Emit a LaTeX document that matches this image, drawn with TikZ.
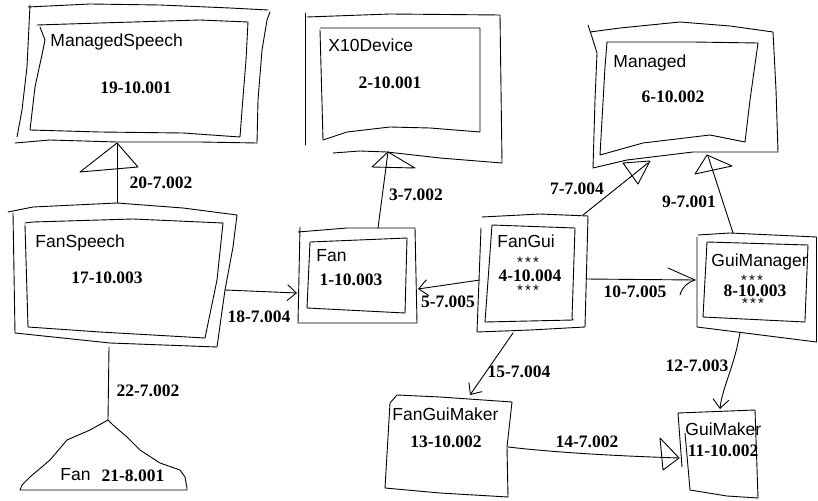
\documentclass[tikz,border=0pt]{standalone}
\usepackage{fontspec}
\setmainfont{Liberation Serif}
\newfontfamily\hand{Liberation Sans}
\usetikzlibrary{arrows.meta}
\newcommand\starrow{\smash{\raisebox{-4.6pt}{*\hspace{2.2pt}*\hspace{2.2pt}*}}}
\begin{document}
\begin{tikzpicture}[x=1pt,y=-1pt,line width=0.9pt,line join=round,line cap=round,
  num/.style={font=\fontsize{17.5}{17.5}\selectfont\bfseries,inner sep=0pt},
  nm/.style={font=\hand\fontsize{17.5}{17.5}\selectfont,inner sep=0pt,anchor=base west},
  lbl/.style={font=\fontsize{17.5}{17.5}\selectfont\bfseries,inner sep=0pt},
  stars/.style={font=\hand\fontsize{15}{15}\selectfont,inner sep=0pt,text height=4pt,text depth=0pt},
  barb/.style={-{Straight Barb[length=9pt,width=16pt]}}]
\useasboundingbox (0,0) rectangle (818,500);

% ---------- ManagedSpeech ----------
\draw (28,7) -- (90,4) -- (160,5) -- (230,8) -- (268,10);
\draw (270,12) -- (267,20) -- (262,50) -- (258,100) -- (257,143);
\draw (30,5) -- (27,67) -- (22,110) -- (17,137);
\draw (15,143) -- (50,140) -- (117,142) -- (200,142) -- (257,143);
\draw (37,25) -- (100,23) -- (200,20) -- (248,22) -- (246,60) -- (242,110) -- (240,137)
      -- (183,133) -- (100,132) -- (30,130) -- (35,87) -- (43,50) -- (45,40) -- (40,27);
\node[nm] (msN) at (50,47) {ManagedSpeech};
\node[num] (msV) at (136,88) {19-10.001};

% ---------- X10Device ----------
\draw (305,13) -- (305,145);
\draw (307,17) -- (390,14) -- (500,15) -- (502,163);
\draw (333,153) -- (360,151) -- (387,152) -- (440,158) -- (502,163);
\draw (320,28) -- (480,28) -- (480,132) -- (430,128) -- (390,127) -- (347,132) -- (323,140) -- (320,30);
\node[nm] (xdN) at (328,52) {X10Device};
\node[num] (xdV) at (390,83) {2-10.001};

% ---------- Managed ----------
\draw (588,25) -- (592,37) -- (597,53) -- (595,100) -- (593,168) -- (627,160) -- (693,152) -- (778,152)
      -- (776,90) -- (773,32) -- (730,26) -- (680,22) -- (620,28) -- (590,32);
\draw (607,42) -- (693,42) -- (758,43) -- (750,100) -- (745,142) -- (710,135) -- (643,143)
      -- (600,155) -- (605,67) -- (607,42);
\node[nm] (mgN) at (613,68) {Managed};
\node[num] (mgV) at (673,97) {6-10.002};

% ---------- FanSpeech ----------
\draw (8,212) -- (33,207) -- (117,203) -- (183,208) -- (237,215) -- (233,247) -- (225,290) -- (217,347)
      -- (110,343) -- (15,333) -- (13,213);
\draw (25,223) -- (33,222) -- (133,219) -- (223,223) -- (217,280) -- (205,338) -- (100,332) -- (28,327) -- (25,225);
\node[nm] (fsN) at (35,247) {FanSpeech};
\node[num] (fsV) at (107,278) {17-10.003};

% ---------- Fan (1) ----------
\draw (298,232) -- (347,228) -- (415,228) -- (417,323) -- (347,323) -- (298,323) -- (300,227);
\draw (310,242) -- (407,238) -- (405,313) -- (307,308) -- cycle;
\node[nm] (f1N) at (316,261) {Fan};
\node[num] (f1V) at (351,280) {1-10.003};

% ---------- FanGui ----------
\draw (482,217) -- (540,214) -- (588,216) -- (585,327) -- (530,330) -- (477,332) -- (481,228);
\draw (492,225) -- (575,228) -- (572,318) -- (573,320) -- (485,322) -- (492,225);
\node[nm] (fgN) at (497,247) {FanGui};
\node[stars] (fgS1) at (528,261) {\starrow};
\node[num] (fgV) at (530,276) {4-10.004};
\node[stars] (fgS2) at (528,289) {\starrow};

% ---------- GuiManager ----------
\draw (698,235) -- (730,233) -- (816.5,237) -- (816.5,342) -- (737,332) -- (697,327) -- (697,237);
\draw (707,242) -- (808,245) -- (805,320) -- (805,322) -- (703,317) -- cycle;
\node[nm] (gmN) at (711,266) {GuiManager};
\node[stars] (gmS1) at (752,279) {\starrow};
\node[num] (gmV) at (755,291) {8-10.003};
\node[stars] (gmS2) at (753,302) {\starrow};

% ---------- FanGuiMaker ----------
\draw (390,403) -- (397,395) -- (440,397) -- (512,402) -- (507,447) -- (508,497) -- (440,493) -- (385,488) -- cycle;
\node[nm] (fgmN) at (392,420) {FanGuiMaker};
\node[num] (fgmV) at (446,442) {13-10.002};

% ---------- GuiMaker ----------
\draw (682,467) -- (678,413) -- (755,410) -- (758,498) -- (727,496) -- (690,490) -- (685,433);
\node[nm] (gkN) at (685,435) {GuiMaker};
\node[num] (gkV) at (723,451) {11-10.002};

% ---------- Fan (21) ----------
\draw (108,420) -- (90,430) -- (67,440) -- (50,460) -- (30,477) -- (22,485) -- (20,490)
      -- (187,490) -- (187,488) -- (185,477) -- (180,470) -- (160,463) -- (140,450) -- (127,437) -- (113,425) -- cycle;
\node[nm] (f21N) at (60,480) {Fan};
\node[num] (f21V) at (133,476) {21-8.001};

% ---------- anchors ----------
\coordinate (msB) at (117,143);
\coordinate (fsT) at (117,203);
\coordinate (fsR) at (225,290);
\coordinate (fsB) at (109,347);
\coordinate (f21T) at (108,420);
\coordinate (f1L) at (297,293);
\coordinate (f1T) at (378,228);
\coordinate (f1R) at (418,289);
\coordinate (xdB) at (388,152);
\coordinate (fgL) at (480,280);
\coordinate (fgR) at (586,279);
\coordinate (fgTR) at (583,215);
\coordinate (fgB) at (513,333);
\coordinate (mgT1) at (648,163);
\coordinate (mgT2) at (708,156);
\coordinate (gmL) at (695,280);
\coordinate (gmT) at (733,233);
\coordinate (gmB) at (740,332);
\coordinate (fgmT) at (470,395);
\coordinate (fgmR) at (508,447);
\coordinate (gkT) at (720,409);
\coordinate (gkL) at (679,458);

% ---------- connectors ----------
\draw (fsT) -- (msB);
\draw (msB) -- (80,172) -- (138,167) -- cycle;
\node[lbl] (l20) at (161,183) {20-7.002};

\draw (f1T) -- (xdB);
\draw (xdB) -- (372,167) -- (415,168) -- cycle;
\node[lbl] (l3) at (416,195) {3-7.002};

\draw (fgTR) -- (mgT1);
\draw (623,163) -- (650,161) -- (638,184) -- cycle;
\node[lbl] (l7) at (577,189) {7-7.004};

\draw (gmT) -- (mgT2);
\draw (695,174) -- (707,155) -- (732,166) -- cycle;
\node[lbl] (l9) at (689,202) {9-7.001};

\draw[barb] (fsR) -- (f1L);
\node[lbl] (l18) at (259,317) {18-7.004};

\draw[barb] (fgL) -- (f1R);
\node[lbl] (l5) at (448,302) {5-7.005};

\draw (fgR) -- (gmL);
\draw (668,268) -- (gmL);
\draw (680,295) .. controls (682,287) and (688,282) .. (gmL);
\node[lbl] (l10) at (635,292) {10-7.005};

\draw[barb] (fgB) -- (fgmT);
\node[lbl] (l15) at (519,372) {15-7.004};

\draw[barb] (gmB) .. controls (735,365) and (722,388) .. (gkT);
\node[lbl] (l12) at (697,366) {12-7.003};

\draw (fgmR) .. controls (560,453) and (620,456) .. (gkL);
\draw (660,438) -- (gkL) -- (663,470) -- cycle;
\node[lbl] (l14) at (587,442) {14-7.002};

\draw (fsB) -- (f21T);
\node[lbl] (l22) at (148,391) {22-7.002};
\end{tikzpicture}
\end{document}
